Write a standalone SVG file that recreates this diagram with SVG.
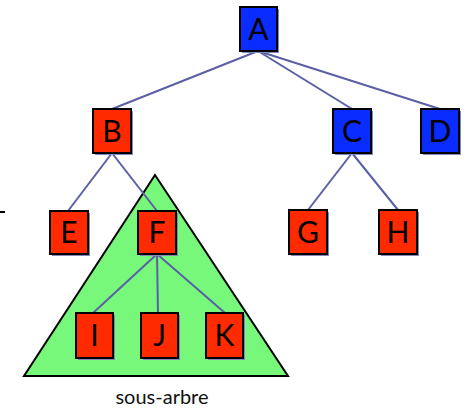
<svg xmlns="http://www.w3.org/2000/svg" width="466" height="409" viewBox="0 0 466 409">
<style>
.edge{stroke:#5a5fa6;stroke-width:2;fill:none}
.sh{fill:#8088c0}
.box{stroke:#000;stroke-width:2}
.r{fill:#ff2a00}
.b{fill:#0a2cff}
.lbl{font-family:Lato,"Open Sans",sans-serif;font-size:30px;fill:#000;text-anchor:middle}
</style>
<rect width="466" height="409" fill="#fff"/>
<g id="subtree">
<polygon points="155,175 24,376 288,376" fill="#77f87a" stroke="#000" stroke-width="2"/>
<text x="162" y="404" font-family="Lato,'Open Sans',sans-serif" font-size="20" text-anchor="middle" fill="#111">sous-arbre</text>
</g>
<line x1="0" y1="212" x2="5" y2="212" stroke="#000" stroke-width="2"/>
<g id="connectors">
<line class="edge" x1="258" y1="51" x2="112" y2="109"/>
<line class="edge" x1="258" y1="51" x2="352" y2="109"/>
<line class="edge" x1="258" y1="51" x2="440" y2="109"/>
<line class="edge" x1="112" y1="153" x2="68" y2="211"/>
<line class="edge" x1="112" y1="153" x2="157" y2="211"/>
<line class="edge" x1="157" y1="254" x2="93" y2="313"/>
<line class="edge" x1="157" y1="254" x2="158" y2="313"/>
<line class="edge" x1="157" y1="254" x2="225" y2="313"/>
<line class="edge" x1="352" y1="153" x2="308" y2="210"/>
<line class="edge" x1="352" y1="153" x2="398" y2="210"/>
</g>
<g id="A"><rect class="sh" x="242" y="9" width="37" height="44"/><rect class="box b" x="240" y="7" width="37" height="44"/><text class="lbl" x="258.5" y="40">A</text></g>
<g id="B"><rect class="sh" x="95" y="111" width="38" height="44"/><rect class="box r" x="93" y="109" width="38" height="44"/><text class="lbl" x="112" y="142">B</text></g>
<g id="C"><rect class="sh" x="335" y="111" width="38" height="44"/><rect class="box b" x="333" y="109" width="38" height="44"/><text class="lbl" x="352" y="142">C</text></g>
<g id="D"><rect class="sh" x="423" y="111" width="38" height="44"/><rect class="box b" x="421" y="109" width="38" height="44"/><text class="lbl" x="440" y="142">D</text></g>
<g id="E"><rect class="sh" x="52" y="213" width="38" height="43"/><rect class="box r" x="50" y="211" width="38" height="43"/><text class="lbl" x="69" y="243">E</text></g>
<g id="F"><rect class="sh" x="140" y="213" width="38" height="43"/><rect class="box r" x="138" y="211" width="38" height="43"/><text class="lbl" x="157" y="243">F</text></g>
<g id="G"><rect class="sh" x="291" y="212" width="38" height="44"/><rect class="box r" x="289" y="210" width="38" height="44"/><text class="lbl" x="308" y="243">G</text></g>
<g id="H"><rect class="sh" x="381" y="212" width="38" height="44"/><rect class="box r" x="379" y="210" width="38" height="44"/><text class="lbl" x="398" y="243">H</text></g>
<g id="I"><rect class="sh" x="78" y="315" width="37" height="45"/><rect class="box r" x="76" y="313" width="37" height="45"/><text class="lbl" x="94.5" y="346">I</text></g>
<g id="J"><rect class="sh" x="143" y="315" width="37" height="45"/><rect class="box r" x="141" y="313" width="37" height="45"/><text class="lbl" x="159.5" y="346">J</text></g>
<g id="K"><rect class="sh" x="208" y="315" width="37" height="45"/><rect class="box r" x="206" y="313" width="37" height="45"/><text class="lbl" x="224.5" y="346">K</text></g>
</svg>
